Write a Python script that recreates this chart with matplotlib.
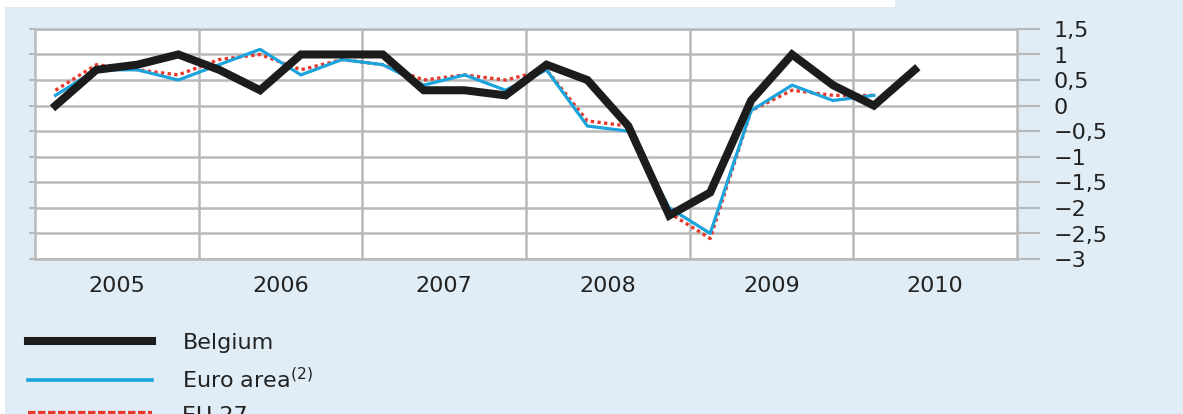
import matplotlib
matplotlib.use("Agg")
import matplotlib.pyplot as plt
from matplotlib.patches import Rectangle
from matplotlib.lines import Line2D
import numpy as np

years = [2005, 2006, 2007, 2008, 2009, 2010]
year_labels = ["2005", "2006", "2007", "2008", "2009", "2010"]
ytick_values = [-3, -2.5, -2, -1.5, -1, -0.5, 0, 0.5, 1, 1.5]
ytick_labels = ["\u22123", "\u22122,5", "\u22122", "\u22121,5", "\u22121", "\u22120,5", "0", "0,5", "1", "1,5"]

belgium = [0.0, 0.7, 0.8, 1.0, 0.7, 0.3, 1.0, 1.0, 1.0, 0.3, 0.3, 0.2,
           0.8, 0.5, -0.4, -2.15, -1.7, 0.1, 1.0, 0.4, 0.0, 0.7]
euro_area = [0.2, 0.7, 0.7, 0.5, 0.8, 1.1, 0.6, 0.9, 0.8, 0.4, 0.6, 0.3,
             0.7, -0.4, -0.5, -2.0, -2.5, -0.1, 0.4, 0.1, 0.2]
eu27 = [0.3, 0.8, 0.7, 0.6, 0.9, 1.0, 0.7, 0.9, 0.8, 0.5, 0.6, 0.5,
        0.7, -0.3, -0.4, -2.1, -2.6, -0.1, 0.3, 0.2, 0.2]

series_names = ["Belgium", "Euro area$^{(2)}$", "EU 27"]

def qpos(n):
    # quarter midpoints in year units
    return [years[0] + (i + 0.5) / 4 for i in range(n)]

W, H = 1183, 414
BG = "#e0edf6"
GRID = "#b9b9b9"
TXT = "#222222"
plt.rcParams["font.family"] = ["DejaVu Sans"]

fig = plt.figure(figsize=(W / 100 + 0.001, H / 100 + 0.001), dpi=100)
fig.patch.set_facecolor(BG)
fig.patches.append(Rectangle((0, 1 - 7 / H), 895 / W, 7 / H, transform=fig.transFigure,
                             facecolor="white", edgecolor="none", zorder=0))
fig.patches.append(Rectangle((0, 0), 5 / W, 1, transform=fig.transFigure,
                             facecolor="white", edgecolor="none", zorder=0))

left, right, top, bottom = 35, 1017, 29, 259
ax = fig.add_axes([left / W, 1 - bottom / H, (right - left) / W, (bottom - top) / H])
ax.set_facecolor("white")
ax.set_xlim(years[0], years[-1] + 1)
ax.set_ylim(-3, 1.5)

# grid
ax.set_yticks(ytick_values)
ax.set_yticklabels([])
ax.tick_params(axis="y", left=True, right=False, length=4, width=1.5, color=GRID)
ax.set_xticks([y for y in years[1:]], minor=False)
ax.set_xticklabels([], minor=False)
ax.set_xticks([y + 0.5 for y in years], minor=True)
ax.set_xticklabels(year_labels, minor=True, fontsize=16, color=TXT)
ax.tick_params(axis="x", which="both", length=0, pad=12)
ax.grid(True, axis="both", which="major", color=GRID, linewidth=1.8)
for s in ax.spines.values():
    s.set_color(GRID)
    s.set_linewidth(1.8)

ax2 = ax.twinx()
ax2.set_ylim(-3, 1.5)
ax2.set_yticks(ytick_values)
ax2.set_yticklabels(ytick_labels, fontsize=16, color=TXT, ha="left")
ax2.tick_params(axis="y", length=16.5, width=1.5, color=GRID, pad=10)
for s in ax2.spines.values():
    s.set_visible(False)

l1, = ax.plot(qpos(len(eu27)), eu27, color="#e8382c", linewidth=2.4,
              linestyle=(0, (1, 1)), zorder=3)
l2, = ax.plot(qpos(len(euro_area)), euro_area, color="#1ba3dc", linewidth=2.3, zorder=4)
l3, = ax.plot(qpos(len(belgium)), belgium, color="#1c1c1c", linewidth=5.8, zorder=5,
              solid_joinstyle="miter")

handles = [Line2D([], [], color="#1c1c1c", linewidth=5.8),
           Line2D([], [], color="#1ba3dc", linewidth=2.6),
           Line2D([], [], color="#e8382c", linewidth=4.5, linestyle=(0, (1.2, 0.4)))]
fig.legend(handles, series_names, loc="upper left", bbox_to_anchor=(28 / W, 1 - 333 / H),
           frameon=False, fontsize=16, handlelength=5.6, handletextpad=1.35,
           labelspacing=0.62, borderpad=0, borderaxespad=0, labelcolor=TXT)

fig.savefig("out.png", dpi=100, facecolor=BG)
